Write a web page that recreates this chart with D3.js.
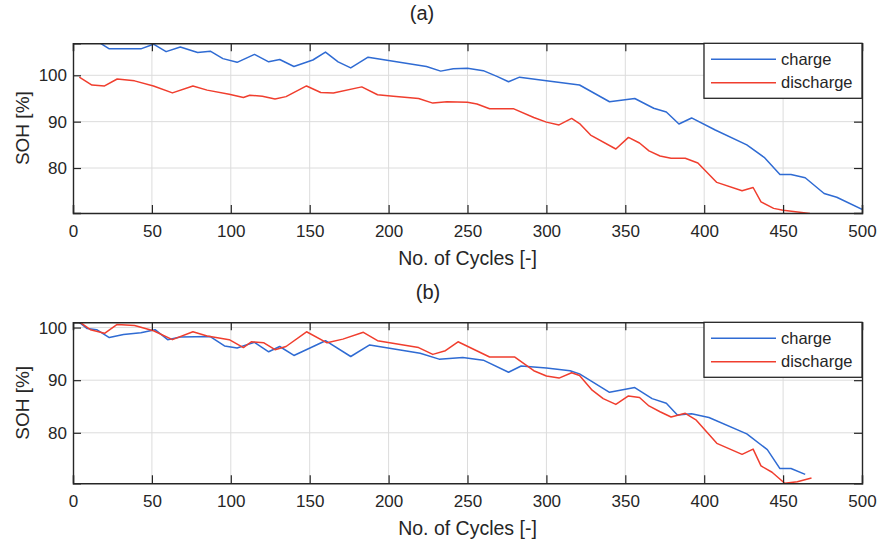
<!DOCTYPE html>
<html>
<head>
<meta charset="utf-8">
<script src="https://cdn.jsdelivr.net/npm/d3@7"></script>
<style>
  body { margin: 0; background: #fff; }
  svg { font-family: "Liberation Sans", Arial, sans-serif; }
</style>
</head>
<body>
<script>
// ---- data ----
var xTicks = [0, 50, 100, 150, 200, 250, 300, 350, 400, 450, 500];
var yTicks = [80, 90, 100];
var seriesNames = ["charge", "discharge"];

// panel (a)
var cyclesAcharge = [8, 16, 23, 43, 51, 59, 68, 79, 87, 95, 104, 115, 124, 131, 140, 152, 160, 168, 176, 187, 224, 233, 241, 250, 260, 269, 276, 283, 300, 321, 340, 356, 368, 376, 384, 392, 407, 427, 438, 448, 455, 464, 476, 484, 500];
var sohAcharge = [107.2, 107.2, 105.7, 105.7, 106.7, 105.1, 106.1, 104.9, 105.2, 103.6, 102.8, 104.5, 102.9, 103.4, 101.9, 103.3, 105.0, 102.9, 101.6, 103.9, 101.9, 100.9, 101.4, 101.5, 101.0, 99.7, 98.6, 99.6, 98.8, 97.9, 94.3, 95.0, 92.9, 92.1, 89.5, 90.8, 88.2, 85.0, 82.3, 78.6, 78.6, 77.9, 74.5, 73.7, 71.1];
var cyclesAdischarge = [4, 12, 20, 28, 39, 51, 63, 76, 85, 99, 108, 112, 120, 128, 135, 148, 157, 165, 183, 193, 203, 219, 228, 237, 250, 256, 264, 279, 292, 300, 308, 316, 321, 328, 344, 352, 359, 365, 372, 379, 388, 396, 408, 424, 431, 436, 444, 450, 467];
var sohAdischarge = [99.6, 97.9, 97.7, 99.2, 98.8, 97.7, 96.2, 97.7, 96.8, 95.9, 95.2, 95.7, 95.5, 94.9, 95.4, 97.7, 96.3, 96.2, 97.5, 95.8, 95.5, 95.0, 94.0, 94.3, 94.2, 93.8, 92.8, 92.8, 90.9, 89.9, 89.3, 90.7, 89.6, 87.1, 84.1, 86.6, 85.4, 83.7, 82.6, 82.1, 82.1, 81.1, 76.9, 75.1, 75.8, 72.7, 71.3, 70.9, 70.2];

// panel (b)
var cyclesBcharge = [4, 9, 15, 23, 32, 43, 52, 60, 68, 87, 96, 104, 115, 124, 131, 140, 160, 176, 188, 220, 232, 247, 260, 276, 284, 300, 315, 321, 340, 356, 367, 376, 383, 392, 403, 427, 440, 448, 455, 464];
var sohBcharge = [101.0, 99.8, 99.6, 98.1, 98.7, 99.0, 99.6, 97.7, 98.2, 98.3, 96.5, 96.1, 97.2, 95.4, 96.4, 94.7, 97.5, 94.5, 96.7, 95.1, 94.0, 94.3, 93.8, 91.5, 92.7, 92.3, 91.8, 91.2, 87.7, 88.6, 86.5, 85.6, 83.4, 83.6, 82.9, 79.8, 76.8, 73.2, 73.2, 72.1];
var cyclesBdischarge = [4, 11, 20, 28, 39, 51, 63, 76, 85, 99, 108, 113, 121, 128, 135, 148, 161, 171, 184, 193, 219, 228, 236, 244, 264, 280, 292, 300, 308, 316, 321, 329, 336, 344, 352, 359, 365, 372, 379, 388, 395, 408, 424, 431, 436, 443, 451, 459, 468];
var sohBdischarge = [101.1, 99.6, 98.9, 100.6, 100.4, 99.4, 97.7, 99.2, 98.4, 97.7, 96.2, 97.3, 97.1, 95.8, 96.4, 99.2, 97.1, 97.8, 99.1, 97.5, 96.2, 94.9, 95.6, 97.3, 94.4, 94.4, 91.8, 90.8, 90.4, 91.4, 90.9, 88.1, 86.5, 85.4, 87.0, 86.7, 85.1, 84.0, 83.0, 83.7, 82.4, 78.0, 75.9, 76.9, 73.7, 72.5, 70.4, 70.7, 71.4];

var colors = {charge: "#2f6bd3", discharge: "#f03e2e"};
var axisColor = "#262626";

var svg = d3.select("body").append("svg")
  .attr("width", 879)
  .attr("height", 547);

function zip(xs, ys) {
  return xs.map(function(v, i) { return {c: v, s: ys[i]}; });
}

function drawPanel(id, label, labelX, top, bottom, yDomain, data) {
  var left = 73, right = 862;
  var x = d3.scaleLinear().domain([0, 500]).range([left, right]);
  var y = d3.scaleLinear().domain(yDomain).range([bottom, top]);

  var g = svg.append("g").attr("id", "panel" + id);

  // clip
  g.append("clipPath").attr("id", "clip" + id)
    .append("rect")
    .attr("x", left).attr("y", top)
    .attr("width", right - left).attr("height", bottom - top);

  // grid
  g.append("g").selectAll("line.gx")
    .data(xTicks.slice(1, -1))
    .enter().append("line")
    .attr("x1", function(d) { return x(d); })
    .attr("x2", function(d) { return x(d); })
    .attr("y1", top).attr("y2", bottom)
    .style("stroke", "#dcdcdc").style("stroke-width", 1);
  g.append("g").selectAll("line.gy")
    .data(yTicks)
    .enter().append("line")
    .attr("y1", function(d) { return y(d); })
    .attr("y2", function(d) { return y(d); })
    .attr("x1", left).attr("x2", right)
    .style("stroke", "#dcdcdc").style("stroke-width", 1);

  // lines
  var line = d3.line()
    .x(function(d) { return x(d.c); })
    .y(function(d) { return y(d.s); });

  var lines = g.append("g").attr("clip-path", "url(#clip" + id + ")");
  seriesNames.forEach(function(name) {
    lines.append("path")
      .datum(data[name])
      .attr("d", line)
      .style("fill", "none")
      .style("stroke", colors[name])
      .style("stroke-width", 1.5)
      .style("stroke-linejoin", "round");
  });

  // axes (box with inward ticks)
  var ax = g.append("g").attr("transform", "translate(0," + bottom + ")")
    .call(d3.axisBottom(x).tickValues(xTicks).tickSize(-8).tickPadding(12));
  g.append("g").attr("transform", "translate(0," + top + ")")
    .call(d3.axisTop(x).tickValues(xTicks).tickSize(-8).tickFormat(""));
  var ay = g.append("g").attr("transform", "translate(" + left + ",0)")
    .call(d3.axisLeft(y).tickValues(yTicks).tickSize(-8).tickPadding(6));
  g.append("g").attr("transform", "translate(" + right + ",0)")
    .call(d3.axisRight(y).tickValues(yTicks).tickSize(-8).tickFormat(""));

  g.selectAll(".domain").style("stroke", axisColor).style("stroke-width", 1.4);
  g.selectAll(".tick line").style("stroke", axisColor).style("stroke-width", 1.2);
  g.selectAll(".tick text")
    .style("font-size", "17px")
    .style("fill", axisColor)
    .style("font-family", '"Liberation Sans", Arial, sans-serif');

  // axis titles
  g.append("text")
    .attr("x", (left + right) / 2)
    .attr("y", bottom + 52)
    .attr("text-anchor", "middle")
    .style("font-size", "19.5px")
    .style("fill", axisColor)
    .text("No. of Cycles [-]");
  g.append("text")
    .attr("transform", "translate(29," + ((top + bottom) / 2) + ") rotate(-90)")
    .attr("text-anchor", "middle")
    .style("font-size", "19px")
    .style("fill", axisColor)
    .text("SOH [%]");

  // panel title
  g.append("text")
    .attr("x", labelX)
    .attr("y", top - 23)
    .attr("text-anchor", "middle")
    .style("font-size", "20px")
    .style("fill", axisColor)
    .text(label);

  // legend
  var lg = g.append("g");
  lg.append("rect")
    .attr("x", 704).attr("y", top)
    .attr("width", right - 704).attr("height", 55)
    .style("fill", "#fff")
    .style("stroke", axisColor).style("stroke-width", 1.3);
  seriesNames.forEach(function(name, i) {
    var ly = top + 16 + i * 23.4;
    lg.append("line")
      .attr("x1", 711).attr("x2", 776)
      .attr("y1", ly).attr("y2", ly)
      .style("stroke", colors[name]).style("stroke-width", 1.5);
    lg.append("text")
      .attr("x", 781).attr("y", ly)
      .attr("dy", "0.35em")
      .style("font-size", "16.5px")
      .style("fill", axisColor)
      .text(name);
  });
}

drawPanel("a", "(a)", 422, 43.3, 213, [70.3, 106.9], {
  charge: zip(cyclesAcharge, sohAcharge),
  discharge: zip(cyclesAdischarge, sohAdischarge)
});
drawPanel("b", "(b)", 428, 322.3, 483.3, [70.4, 101.0], {
  charge: zip(cyclesBcharge, sohBcharge),
  discharge: zip(cyclesBdischarge, sohBdischarge)
});
</script>
</body>
</html>
